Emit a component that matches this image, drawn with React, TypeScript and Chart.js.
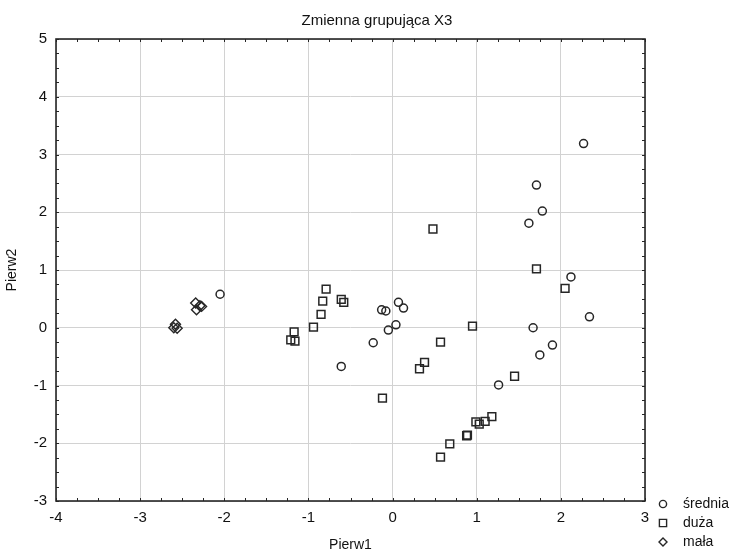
import React, { useEffect, useRef } from 'react';
import { Chart, registerables } from 'chart.js';

Chart.register(...registerables);

const TITLE = 'Zmienna grupująca X3';
const X_TITLE = 'Pierw1';
const Y_TITLE = 'Pierw2';
const X_MIN = -4;
const X_MAX = 3;
const Y_MIN = -3;
const Y_MAX = 5;
const SERIES_NAMES = ['średnia', 'duża', 'mała'];

const sredniaX = [-2.05, -0.13, -0.08, 0.07, 0.13, 0.04, -0.05, -0.23, -0.61, 1.26, 1.75, 1.90, 1.67, 2.34, 2.12, 1.62, 1.78, 1.71, 2.27];
const sredniaY = [0.58, 0.31, 0.29, 0.44, 0.34, 0.05, -0.04, -0.26, -0.67, -0.99, -0.47, -0.30, 0.00, 0.19, 0.88, 1.81, 2.02, 2.47, 3.19];

const duzaX = [-1.17, -1.21, -1.16, -0.94, -0.85, -0.83, -0.79, -0.61, -0.58, 0.48, 0.95, 0.57, 0.38, 0.32, -0.12, 1.45, 1.18, 1.10, 0.99, 1.03, 0.88, 0.89, 0.68, 0.57, 1.71, 2.05];
const duzaY = [-0.07, -0.21, -0.23, 0.01, 0.23, 0.46, 0.67, 0.49, 0.44, 1.71, 0.03, -0.25, -0.60, -0.71, -1.22, -0.84, -1.54, -1.62, -1.63, -1.67, -1.87, -1.86, -2.01, -2.24, 1.02, 0.68];

const malaX = [-2.34, -2.29, -2.33, -2.27, -2.58, -2.60, -2.56];
const malaY = [0.43, 0.38, 0.31, 0.37, 0.06, 0.00, -0.01];

const FONT = 'Liberation Sans, Arial, sans-serif';
const INK = '#262626';

function toPoints(xs: number[], ys: number[]) {
  return xs.map((x, i) => ({ x, y: ys[i] }));
}

const decorPlugin = {
  id: 'decor',
  afterDraw(chart: any) {
    const { ctx, chartArea: a, scales } = chart;
    const xs = scales.x;
    const ys = scales.y;
    ctx.save();
    ctx.strokeStyle = INK;
    ctx.lineWidth = 1;
    ctx.beginPath();
    for (let v = X_MIN; v <= X_MAX + 1e-9; v += 0.25) {
      const px = Math.round(xs.getPixelForValue(v)) + 0.5;
      ctx.moveTo(px, a.bottom);
      ctx.lineTo(px, a.bottom - 3);
      ctx.moveTo(px, a.top);
      ctx.lineTo(px, a.top + 3);
    }
    for (let v = Y_MIN; v <= Y_MAX + 1e-9; v += 0.25) {
      const py = Math.round(ys.getPixelForValue(v)) + 0.5;
      ctx.moveTo(a.left, py);
      ctx.lineTo(a.left + 3, py);
      ctx.moveTo(a.right, py);
      ctx.lineTo(a.right - 3, py);
    }
    ctx.stroke();
    ctx.lineWidth = 1.6;
    ctx.strokeRect(a.left, a.top, a.right - a.left, a.bottom - a.top);

    ctx.fillStyle = '#111';
    ctx.font = `15px ${FONT}`;
    ctx.textAlign = 'center';
    ctx.textBaseline = 'alphabetic';
    ctx.fillText(TITLE, 377, 25);

    const lx = 663;
    const rows = [504, 523, 542];
    ctx.font = `14px ${FONT}`;
    ctx.textAlign = 'left';
    ctx.textBaseline = 'middle';
    chart.data.datasets.forEach((ds: any, i: number) => {
      const y = rows[i];
      ctx.strokeStyle = INK;
      ctx.lineWidth = 1.4;
      ctx.beginPath();
      if (ds.pointStyle === 'circle') {
        ctx.arc(lx, y, 3.6, 0, Math.PI * 2);
      } else if (ds.pointStyle === 'rect') {
        ctx.rect(lx - 3.6, y - 3.6, 7.2, 7.2);
      } else {
        ctx.moveTo(lx, y - 4);
        ctx.lineTo(lx + 4, y);
        ctx.lineTo(lx, y + 4);
        ctx.lineTo(lx - 4, y);
        ctx.closePath();
      }
      ctx.stroke();
      ctx.fillStyle = '#111';
      ctx.fillText(ds.label, lx + 20, y);
    });
    ctx.restore();
  },
};

export default function App() {
  const ref = useRef<HTMLCanvasElement | null>(null);

  useEffect(() => {
    document.body.style.margin = '0';
    const canvas = ref.current;
    if (!canvas) return;
    const chart = new Chart(canvas, {
      type: 'scatter',
      data: {
        datasets: [
          {
            label: SERIES_NAMES[0],
            data: toPoints(sredniaX, sredniaY),
            pointStyle: 'circle',
            pointRadius: 4,
            borderColor: INK,
            backgroundColor: 'rgba(255,255,255,0)',
            borderWidth: 1.5,
          },
          {
            label: SERIES_NAMES[1],
            data: toPoints(duzaX, duzaY),
            pointStyle: 'rect',
            pointRadius: 5.5,
            borderColor: INK,
            backgroundColor: 'rgba(255,255,255,0)',
            borderWidth: 1.5,
          },
          {
            label: SERIES_NAMES[2],
            data: toPoints(malaX, malaY),
            pointStyle: 'rectRot',
            pointRadius: 5,
            borderColor: INK,
            backgroundColor: 'rgba(255,255,255,0)',
            borderWidth: 1.4,
          },
        ],
      },
      options: {
        responsive: false,
        animation: false,
        devicePixelRatio: 1,
        layout: { padding: { left: 0, right: 91, top: 39, bottom: 0 } },
        plugins: {
          legend: { display: false },
          title: { display: false },
          tooltip: { enabled: false },
        },
        scales: {
          x: {
            type: 'linear',
            min: X_MIN,
            max: X_MAX,
            ticks: {
              stepSize: 1,
              color: '#111',
              font: { family: FONT, size: 15 },
              padding: 8,
              maxRotation: 0,
            },
            grid: { color: '#d2d2d2', lineWidth: 1, drawTicks: false },
            border: { display: false },
            title: {
              display: true,
              text: X_TITLE,
              color: '#111',
              font: { family: FONT, size: 14, lineHeight: 1.0 },
              padding: 0,
            },
            afterFit: (s: any) => {
              s.height = 51;
            },
          },
          y: {
            type: 'linear',
            min: Y_MIN,
            max: Y_MAX,
            ticks: {
              stepSize: 1,
              color: '#111',
              font: { family: FONT, size: 15 },
              padding: 9,
            },
            grid: { color: '#d2d2d2', lineWidth: 1, drawTicks: false },
            border: { display: false },
            title: {
              display: true,
              text: Y_TITLE,
              color: '#111',
              font: { family: FONT, size: 14 },
              padding: { top: 4, bottom: 0 },
            },
            afterFit: (s: any) => {
              s.width = 56;
            },
          },
        },
      },
      plugins: [decorPlugin],
    });
    return () => chart.destroy();
  }, []);

  return (
    <div style={{ width: 736, height: 552, background: '#fff' }}>
      <canvas ref={ref} width={736} height={552} style={{ display: 'block' }} />
    </div>
  );
}
